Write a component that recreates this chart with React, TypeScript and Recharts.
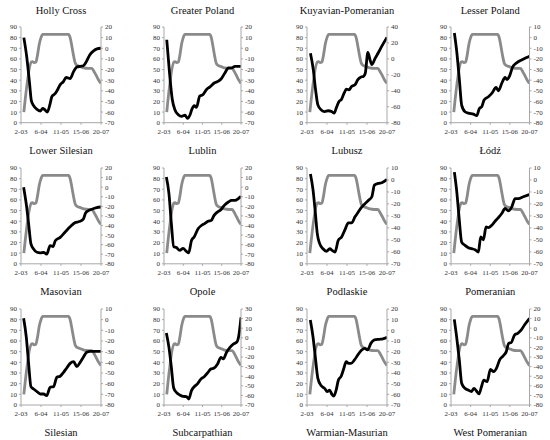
import React from 'react';
import { LineChart, Line, XAxis, YAxis } from 'recharts';

type Pt = [number, number];

const xTickDays = [0, 35, 70, 105, 140];
const xTickLabels = ['2-03', '6-04', '11-05', '15-06', '20-07'];
const leftTicks = [0, 10, 20, 30, 40, 50, 60, 70, 80, 90];

// grey line (left axis), days since 2-03
const stringency: Pt[] = [
  [5, 10], [18, 57], [20, 57.5], [23, 56.5], [26, 57], [29, 64], [32, 74], [35, 80], [38, 83],
  [60, 83], [83, 83], [86, 80], [89, 72], [92, 63], [95, 56], [98, 54], [103, 53], [110, 51.5],
  [118, 51], [124, 51], [128, 48], [132, 44], [136, 40], [140, 37],
];

const hollyCross: Pt[] = [[5, 10], [10, -8], [15, -33], [18, -49], [22, -54], [28, -57.5], [34, -59], [38, -56.5], [42, -58], [46, -60], [51, -52], [54, -45.5], [60, -42.5], [64, -39], [69, -34], [74, -31.5], [79, -27.5], [86, -28.5], [92, -22], [98, -17.5], [104, -17], [109, -16.5], [114, -13], [120, -6.5], [127, -2.5], [133, -0.6], [140, 0]];
const greaterPoland: Pt[] = [[5, 8], [10, -23], [15, -48], [20, -58], [26, -62.5], [32, -64], [38, -63], [43, -66], [47, -63], [51, -57], [55, -54], [59, -55.5], [65, -45], [71, -43.5], [77, -39], [83, -36.5], [92, -32.5], [99, -31], [105, -28], [111, -23], [117, -18.5], [123, -18.5], [129, -17], [138, -17], [140, -17.5]];
const kuyavianPomeranian: Pt[] = [[6, 7], [11, -13.5], [15, -38.7], [19, -57.7], [25, -64], [31, -66], [37, -65], [43, -66], [47.5, -68], [52, -60], [56, -53.5], [60.5, -50.5], [65, -43], [69, -38], [73.5, -38.7], [78, -34.5], [84, -32.4], [89, -26], [94.7, -22.7], [98.8, -22], [102, -18], [106.5, 8], [110.6, -2], [113.5, -7], [119.4, 1], [125, 8], [131, 16], [140, 27]];
const lesserPoland: Pt[] = [[6, 4.4], [10, -12], [15, -40], [19, -63.4], [25, -69.7], [31, -71], [40, -72], [46, -73.4], [50.6, -66.6], [54.8, -65], [59, -58.75], [66.7, -55.6], [72.7, -52.5], [80.4, -46.9], [84.6, -50], [90.5, -43], [96.5, -37.5], [100, -39.4], [104.5, -36], [110, -27.5], [117, -23.75], [126, -21], [135, -18.75], [140, -17.5]];
const lowerSilesian: Pt[] = [[4.6, 0], [9.3, -18], [13.4, -38.6], [17.4, -59.3], [22, -64.5], [28, -68], [33.7, -68.6], [39.5, -68], [45, -70], [51, -61], [56, -62], [60, -55.9], [68.6, -52.4], [77, -47], [86, -41.4], [95, -37], [102, -35.9], [109, -33.4], [113, -27], [118, -24.5], [124, -23], [132.5, -21.4], [140, -20.7]];
const lublin: Pt[] = [[4.3, 10.6], [9, -6.8], [13.4, -38], [17.6, -62], [22.5, -63], [28.6, -66], [34.7, -64], [40.8, -67], [45, -68.5], [50, -55.6], [54.8, -52], [62, -43.4], [68, -40], [74, -38], [80, -35.7], [86, -34.7], [91, -29.5], [97, -26], [103.5, -23.5], [109.6, -19], [117, -15.5], [123, -13.8], [129, -13.8], [135, -12], [140, -9.6]];
const lubusz: Pt[] = [[6, 5], [10.6, -8.5], [14.7, -28], [18, -44.8], [22, -53], [28, -57.4], [34, -59.6], [40, -57.4], [44, -58.8], [49, -60.2], [54.7, -50.4], [60.6, -47.6], [66.5, -41.5], [72.4, -35.9], [78, -35.9], [84, -30.8], [90, -26.6], [96, -22.4], [101.8, -19.6], [107.6, -16.9], [113.5, -14], [118, -4.3], [125, -2.9], [131, -2.3], [140, 0.5]];
const lodz: Pt[] = [[6, 6.6], [10, -8.5], [14.3, -30.8], [19, -51.8], [25, -54.6], [31, -56.6], [37, -57.4], [43, -58.3], [48.8, -60.2], [53, -47.6], [57.8, -49.9], [62.5, -39.2], [66.7, -39.8], [72.7, -37.8], [78.6, -34.5], [84.6, -31.4], [90.5, -28], [96.5, -23.8], [102.4, -25.8], [108.4, -22.4], [114.4, -15.5], [120, -15.5], [129, -14], [140, -12.1]];
const masovian: Pt[] = [[4.6, 1.25], [9.3, -16.6], [13.4, -41.6], [17.4, -62.8], [22, -65], [28, -67.5], [33.7, -69.7], [39.5, -69.7], [45, -71.25], [51, -63.4], [57, -62.8], [62.8, -54], [68.6, -53], [74.4, -49.4], [80, -45.3], [86, -41], [92, -39.4], [97.7, -44], [103.5, -40], [109, -35.3], [115, -30.6], [121, -29.7], [140, -29.7]];
const opole: Pt[] = [[4.3, 5], [9, -10], [13.4, -30.8], [17.6, -52.3], [22.5, -56.8], [28.6, -59.6], [34.7, -61], [40.8, -61.3], [45, -63.75], [50, -55], [54.8, -51], [60.9, -48], [67, -43], [73, -40.5], [79, -36.7], [85, -32.5], [91, -31.5], [97.4, -27.3], [103.5, -20.3], [107.7, -22], [113.8, -15], [120, -10], [126, -6.5], [132, -4.7], [136, 2.2], [140, 21.3]];
const podlaskie: Pt[] = [[5.8, 9.7], [10.5, -6], [14.5, -24.7], [19, -45], [25, -52], [30.8, -54.4], [35.5, -57.5], [39.5, -56], [43.6, -60], [47, -61.6], [51, -56], [55, -46.6], [60, -42.8], [64.5, -35.6], [68.6, -29.4], [72.7, -31], [77, -31], [83, -27.8], [89, -23], [94.8, -19], [100.6, -17], [106, -18.4], [112, -12], [118, -9], [126.7, -8.4], [132.6, -8], [140, -6.6]];
const pomeranian: Pt[] = [[5.9, 9.2], [10, -8.8], [14.8, -33], [19, -57.4], [24.8, -62.6], [30.7, -64.4], [36.6, -66], [41, -62.6], [45.5, -65.4], [50, -68.5], [54.3, -61], [58.5, -54], [64.4, -55.7], [70.3, -42.8], [76, -45.3], [81, -41.8], [86.8, -33], [92.7, -29], [98.6, -24.4], [102.8, -15.8], [107.5, -15], [113.4, -7], [119, -5.3], [125, -2], [131, 3.3], [140, 10.3]];

const ticks20to70 = [-70, -60, -50, -40, -30, -20, -10, 0, 10, 20];
const ticks40to80 = [-80, -60, -40, -20, 0, 20, 40];
const ticks10to80 = [-80, -70, -60, -50, -40, -30, -20, -10, 0, 10];
const ticks20to80 = [-80, -70, -60, -50, -40, -30, -20, -10, 0, 10, 20];
const ticks10to70 = [-70, -60, -50, -40, -30, -20, -10, 0, 10];
const ticks30to70 = [-70, -60, -50, -40, -30, -20, -10, 0, 10, 20, 30];

const regionNames = ['Holly Cross', 'Greater Poland', 'Kuyavian-Pomeranian', 'Lesser Poland', 'Lower Silesian', 'Lublin', 'Lubusz', 'Łódź', 'Masovian', 'Opole', 'Podlaskie', 'Pomeranian'];
const regionSeries = [hollyCross, greaterPoland, kuyavianPomeranian, lesserPoland, lowerSilesian, lublin, lubusz, lodz, masovian, opole, podlaskie, pomeranian];
const regionRightTicks = [ticks20to70, ticks20to70, ticks40to80, ticks10to80, ticks20to80, ticks20to80, ticks10to70, ticks10to70, ticks10to80, ticks30to70, ticks20to70, ticks20to80];
const lastRowNames = ['Silesian', 'Subcarpathian', 'Warmian-Masurian', 'West Pomeranian'];

// layout (page px)
const colLeft = [21, 164, 307, 451];
const colRight = [101, 241, 387, 529.5];
const rowTop = [27, 167.5, 308.5];
const rowBottom = [122.7, 263.3, 404.5];
const titleY = [10.5, 150.5, 291.5, 432.5];
const AXW = 22;
const TOPM = 5;
const XAH = 18;

const FONT = '"Liberation Serif", "Times New Roman", serif';
const AXIS_COLOR = '#a8a8a8';
const TICK_STYLE = { fontSize: 7, fill: '#333', fontFamily: FONT };

function buildRows(grey: Pt[], black: Pt[]) {
  const map = new Map<number, any>();
  grey.forEach(([d, v]) => {
    const r = map.get(d) || { d };
    r.g = v;
    map.set(d, r);
  });
  black.forEach(([d, v]) => {
    const r = map.get(d) || { d };
    r.b = v;
    map.set(d, r);
  });
  return Array.from(map.values()).sort((a, b) => a.d - b.d);
}

function Title({ text, col, row }: { text: string; col: number; row: number }) {
  const cx = (colLeft[col] + colRight[col]) / 2;
  return (
    <div
      style={{
        position: 'absolute',
        left: cx - 70,
        width: 140,
        top: titleY[row] - 7,
        height: 14,
        lineHeight: '14px',
        textAlign: 'center',
        fontFamily: FONT,
        fontSize: 10.5,
        color: '#111',
        whiteSpace: 'nowrap',
      }}
    >
      {text}
    </div>
  );
}

function Panel({ idx }: { idx: number }) {
  const col = idx % 4;
  const row = Math.floor(idx / 4);
  const plotW = colRight[col] - colLeft[col];
  const plotH = rowBottom[row] - rowTop[row];
  const width = plotW + AXW * 2;
  const height = plotH + TOPM + XAH;
  const data = buildRows(stringency, regionSeries[idx]);
  const rt = regionRightTicks[idx];
  return (
    <div style={{ position: 'absolute', left: colLeft[col] - AXW, top: rowTop[row] - TOPM }}>
      <LineChart width={width} height={height} data={data} margin={{ top: TOPM, right: 0, bottom: 0, left: 0 }}>
        <XAxis
          dataKey="d"
          type="number"
          domain={[0, 140]}
          ticks={xTickDays}
          interval={0}
          tickFormatter={(v: number) => xTickLabels[xTickDays.indexOf(v)] ?? ''}
          height={XAH}
          tick={TICK_STYLE}
          tickSize={2}
          tickMargin={4}
          stroke={AXIS_COLOR}
          allowDataOverflow
        />
        <YAxis
          yAxisId="left"
          orientation="left"
          domain={[0, 90]}
          ticks={leftTicks}
          interval={0}
          width={AXW}
          tick={TICK_STYLE}
          tickSize={2}
          tickMargin={2}
          stroke={AXIS_COLOR}
          allowDataOverflow
        />
        <YAxis
          yAxisId="right"
          orientation="right"
          domain={[rt[0], rt[rt.length - 1]]}
          ticks={rt}
          interval={0}
          width={AXW}
          tick={TICK_STYLE}
          tickSize={2}
          tickMargin={2}
          stroke={AXIS_COLOR}
          allowDataOverflow
        />
        <Line
          yAxisId="left"
          dataKey="g"
          type="monotone"
          stroke="#8a8a8a"
          strokeWidth={2.8}
          dot={false}
          connectNulls
          isAnimationActive={false}
        />
        <Line
          yAxisId="right"
          dataKey="b"
          type="monotone"
          stroke="#000"
          strokeWidth={2.8}
          dot={false}
          connectNulls
          isAnimationActive={false}
        />
      </LineChart>
    </div>
  );
}

export default function App() {
  return (
    <div style={{ position: 'absolute', left: 0, top: 0, width: 550, height: 440, background: '#fff', overflow: 'hidden' }}>
      {regionNames.map((name, i) => (
        <Title key={'t' + i} text={name} col={i % 4} row={Math.floor(i / 4)} />
      ))}
      {lastRowNames.map((name, i) => (
        <Title key={'l' + i} text={name} col={i} row={3} />
      ))}
      {regionNames.map((_, i) => (
        <Panel key={'p' + i} idx={i} />
      ))}
    </div>
  );
}
